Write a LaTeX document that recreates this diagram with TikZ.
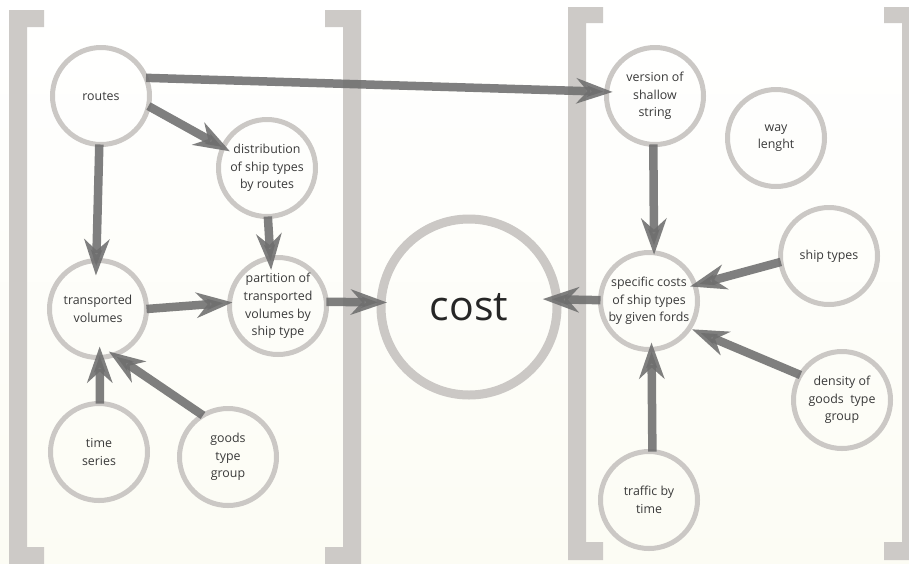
\documentclass[tikz,border=0pt]{standalone}
\usepackage{fontspec}
\setmainfont{Open Sans}
\usetikzlibrary{arrows.meta}
\definecolor{circgray}{HTML}{CBC8C5}
\definecolor{brkgray}{HTML}{CDCAC7}
\definecolor{arrgray}{HTML}{6E6E6E}
\definecolor{txtgray}{HTML}{3A3A3A}
\definecolor{bgbottom}{HTML}{FCFCF4}
\tikzset{
  bub/.style={circle, draw=circgray, line width=5pt, minimum size=97pt, inner sep=0pt, outer sep=0pt,
    align=center, font=\fontsize{12.4}{17.7}\selectfont, text=txtgray},
  bigbub/.style={bub, line width=9pt, minimum size=176pt, font=\fontsize{41}{44}\selectfont, text=black!85},
  arr/.style={draw=arrgray, line width=8.5pt, opacity=.88, -{Stealth[length=36pt,width=25pt,inset=11pt]}},
  brk/.style={fill=brkgray, draw=none}
}
\begin{document}
\begin{tikzpicture}[x=1pt,y=-1pt]
\useasboundingbox (0,0) rectangle (909,563);
\clip (0,0) rectangle (909,563);
\shade[top color=white, bottom color=bgbottom] (0,0) rectangle (909,563);
% brackets
\fill[brk] (9,10) -- (44,10) -- (44,27) -- (27,27) -- (27,547) -- (44,547) -- (44,565) -- (9,565) -- cycle;
\fill[brk] (361,10) -- (325,10) -- (325,27) -- (343,27) -- (343,547) -- (325,547) -- (325,565) -- (361,565) -- cycle;
\fill[brk] (568,7) -- (603,7) -- (603,23) -- (586,23) -- (586,542) -- (603,542) -- (603,560) -- (568,560) -- cycle;
\fill[brk] (920,7) -- (884,7) -- (884,23) -- (902,23) -- (902,542) -- (884,542) -- (884,560) -- (920,560) -- cycle;
% nodes
\node[bub] (routes) at (101,96) {routes};
\node[bub] (dist) at (267,168) {distribution\\of ship types\\by routes};
\node[bub] (trans) at (98,309) {transported\\volumes};
\node[bub] (part) at (278,306) {partition of\\transported\\volumes by\\ship type};
\node[bub] (time) at (99,452) {time\\series};
\node[bub] (goods) at (228,457) {goods\\type\\group};
\node[bigbub] (cost) at (469,307) {cost};
\node[bub] (vers) at (655,96) {version of\\shallow\\string};
\node[bub] (way) at (776,138) {way\\lenght};
\node[bub] (ship) at (829,256) {ship types};
\node[bub] (spec) at (649,301) {specific costs\\of ship types\\by given fords};
\node[bub] (dens) at (842,400) {density of\\goods\ \ type\\group};
\node[bub] (traf) at (649,500) {traffic by\\time};
% connectors
\draw[arr, shorten >=-6pt] (routes.22) -- (vers.175);
\draw[arr, shorten >=-8pt] (routes.-12) -- (dist.155);
\draw[arr, shorten >=-15pt] (routes.-92) -- (trans.92);
\draw[arr, shorten >=-12pt] (dist.-89) -- (part.99);
\draw[arr, shorten >=-3pt] (trans.0) -- (part.176);
\draw[arr, shorten >=-6pt] (part.5) -- (cost.177);
\draw[arr, shorten >=-14pt] (spec.179) -- (cost.5);
\draw[arr, shorten >=-2pt] (vers.-92) -- (spec.84);
\draw[arr, shorten >=-5pt] (ship.187) -- (spec.19);
\draw[arr, shorten >=3pt] (dens.149) -- (spec.-34);
\draw[arr, shorten >=-7pt] (traf.86) -- (spec.-87);
\draw[arr, shorten >=-11pt] (time.89) -- (trans.-88);
\draw[arr, shorten >=-6pt] (goods.121) -- (trans.-71);
\end{tikzpicture}
\end{document}
